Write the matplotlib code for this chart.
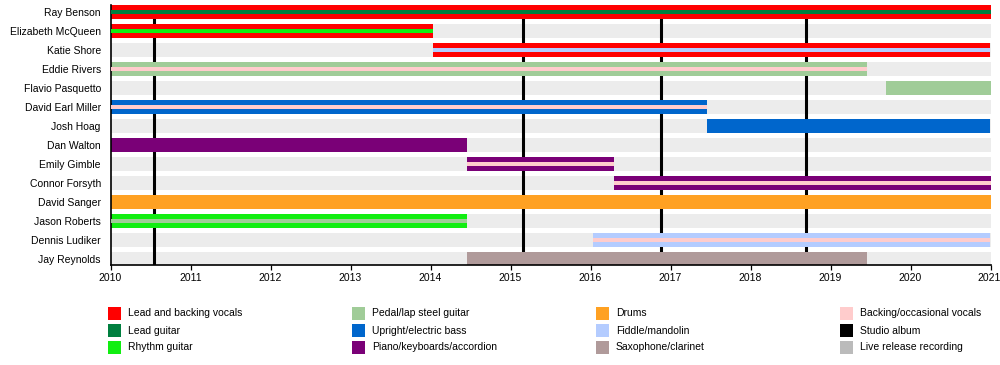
import matplotlib
matplotlib.use('Agg')
import matplotlib.pyplot as plt
import matplotlib.transforms as mtransforms
from matplotlib.patches import Rectangle

plt.rcParams['font.family'] = ['Liberation Sans', 'DejaVu Sans']

# band members, top to bottom
members = ['Ray Benson', 'Elizabeth McQueen', 'Katie Shore', 'Eddie Rivers',
           'Flavio Pasquetto', 'David Earl Miller', 'Josh Hoag', 'Dan Walton',
           'Emily Gimble', 'Connor Forsyth', 'David Sanger', 'Jason Roberts',
           'Dennis Ludiker', 'Jay Reynolds']
start = [2010, 2010, 2014.03, 2010, 2019.69, 2010, 2017.45, 2010,
         2014.46, 2016.29, 2010, 2010, 2016.03, 2014.46]
end = [2021, 2014.03, 2021, 2019.46, 2021, 2017.45, 2021, 2014.46,
       2016.29, 2021, 2021, 2014.46, 2021, 2019.46]
main_role = ['Lead and backing vocals', 'Lead and backing vocals', 'Lead and backing vocals',
             'Pedal/lap steel guitar', 'Pedal/lap steel guitar', 'Upright/electric bass',
             'Upright/electric bass', 'Piano/keyboards/accordion', 'Piano/keyboards/accordion',
             'Piano/keyboards/accordion', 'Drums', 'Rhythm guitar', 'Fiddle/mandolin',
             'Saxophone/clarinet']
second_role = ['Lead guitar', 'Rhythm guitar', 'Fiddle/mandolin', 'Backing/occasional vocals',
               None, 'Backing/occasional vocals', None, None, 'Backing/occasional vocals',
               'Backing/occasional vocals', None, 'Pedal/lap steel guitar',
               'Backing/occasional vocals', None]

studio_albums = [2010.54, 2015.16, 2016.88, 2018.69]
years = list(range(2010, 2022))

legend_labels = ['Lead and backing vocals', 'Lead guitar', 'Rhythm guitar',
                 'Pedal/lap steel guitar', 'Upright/electric bass', 'Piano/keyboards/accordion',
                 'Drums', 'Fiddle/mandolin', 'Saxophone/clarinet',
                 'Backing/occasional vocals', 'Studio album', 'Live release recording']

colors = {
    'Lead and backing vocals': '#ff0000',
    'Lead guitar': '#007f3f',
    'Rhythm guitar': '#11ee11',
    'Pedal/lap steel guitar': '#a0cc98',
    'Upright/electric bass': '#0066cc',
    'Piano/keyboards/accordion': '#7a0077',
    'Drums': '#ffa122',
    'Fiddle/mandolin': '#b4ccff',
    'Saxophone/clarinet': '#b09a9a',
    'Backing/occasional vocals': '#ffcccc',
    'Studio album': '#000000',
    'Live release recording': '#bbbbbb',
}

fig = plt.figure(figsize=(10, 3.65), dpi=100)
ax = fig.add_axes([0.1105, 0.274, 0.88, 0.712])

rows = list(range(len(members)))
bar_h = 0.74

# grey background rows
ax.barh(rows, [years[-1] - years[0]] * len(rows), left=years[0], height=bar_h,
        color='#ececec', zorder=1)

ax.vlines(studio_albums, -0.5, len(members), color='black', lw=2.2, zorder=1.5)

widths = [e - s for s, e in zip(start, end)]
ax.barh(rows, widths, left=start, height=bar_h,
        color=[colors[r] for r in main_role], zorder=2)
for y, s, w, r in zip(rows, start, widths, second_role):
    if r is not None:
        ax.barh(y, w, left=s, height=bar_h * 0.3, color=colors[r], zorder=3)

ax.set_xlim(years[0], years[-1])
ax.set_ylim(len(members) - 1 + 0.32, -0.37)
ax.set_yticks(rows)
ax.set_yticklabels(members, fontsize=7.5)
ax.tick_params(axis='y', length=0, pad=7)
ax.set_xticks(years)
ax.set_xticklabels([str(y) for y in years], fontsize=7.5)
ax.tick_params(axis='x', length=3.6, width=0.9, pad=2)
# keep the last year label inside the figure
last = ax.get_xticklabels()[-1]
last.set_ha('right')
last.set_transform(last.get_transform() + mtransforms.ScaledTranslation(10 / 100, 0, fig.dpi_scale_trans))
for side in ['top', 'right']:
    ax.spines[side].set_visible(False)
ax.spines['left'].set_linewidth(1.2)
ax.spines['bottom'].set_linewidth(1.2)

# legend, 3 rows x 4 columns
W, H = 1000.0, 365.0
for i, lab in enumerate(legend_labels):
    col, row = i // 3, i % 3
    px = 108 + 244 * col
    py = 313.5 + 17 * row
    fig.add_artist(Rectangle((px / W, 1 - (py + 6.5) / H), 13 / W, 13 / H,
                             transform=fig.transFigure, color=colors[lab], lw=0))
    fig.text((px + 20) / W, 1 - py / H, lab, fontsize=7.5, va='center', ha='left')

fig.savefig('out.png', dpi=100)
